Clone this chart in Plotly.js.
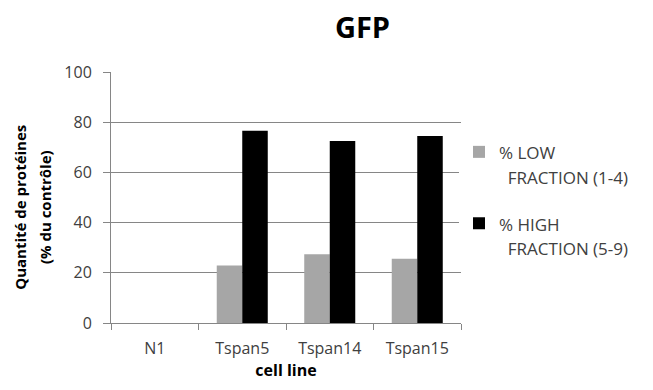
<!DOCTYPE html>
<html>
<head>
<meta charset="utf-8">
<script src="https://cdn.plot.ly/plotly-3.0.1.min.js"></script>
<style>html,body{margin:0;padding:0;background:#fff;}#chart{width:653px;height:390px;}</style>
</head>
<body>
<div id="chart"></div>
<script>
const categories = ["N1", "Tspan5", "Tspan14", "Tspan15"];
const lowValues = [0, 22.9, 27.4, 25.6];
const highValues = [0, 76.6, 72.5, 74.5];
const seriesLine1 = ["% LOW", "% HIGH"];
const seriesLine2 = ["FRACTION (1-4)", "FRACTION (5-9)"];
const yTicks = [0, 20, 40, 60, 80, 100];

const font = "Open Sans, Liberation Sans, sans-serif";
const legendName = i => '<span style="font-size:17px">' + seriesLine1[i] + '<br>&nbsp;&nbsp;' + seriesLine2[i] + '</span>';
const pad = "&nbsp;&nbsp;&nbsp;&nbsp;&nbsp;";

const data = [
  {type: "bar", x: categories, y: lowValues, name: legendName(0), legendgroup: "a",
   marker: {color: "#a6a6a6", line: {width: 0}}},
  {type: "bar", x: categories, y: highValues, name: legendName(1), legendgroup: "b",
   marker: {color: "#000000", line: {width: 0}}}
];

const layout = {
  width: 653, height: 390,
  margin: {l: 111, r: 192, t: 72, b: 67},
  paper_bgcolor: "#fff", plot_bgcolor: "#fff",
  font: {family: font, size: 16, color: "#404040"},
  title: {text: "<b>GFP</b>", x: 362.5/653, xanchor: "center", xref: "container",
          y: 1 - 27.5/390, yanchor: "middle", yref: "container",
          font: {family: font, size: 29, color: "#000"}},
  barmode: "group", bargap: 0.417, bargroupgap: 0,
  xaxis: {
    type: "category", showline: true, linecolor: "#868686", linewidth: 1,
    ticks: "outside", tickson: "boundaries", ticklen: 6, tickcolor: "#868686",
    ticklabelstandoff: 11,
    tickfont: {family: font, size: 16, color: "#404040"},
    title: {text: "<b>cell line</b>", font: {family: font, size: 16, color: "#000"}, standoff: 6},
    showgrid: false, zeroline: false
  },
  yaxis: {
    range: [0, 100], tickvals: yTicks, showline: true, linecolor: "#868686", linewidth: 1,
    ticks: "outside", ticklen: 7, tickcolor: "#868686", ticklabelstandoff: 8,
    gridcolor: "#868686", gridwidth: 1, zeroline: false,
    tickfont: {family: font, size: 16, color: "#404040"},
    title: {text: '<b><span style="font-size:15px">Quantité de protéines' + pad + '<br>(% du contrôle)' + pad + '</span></b>',
            font: {family: font, size: 19, color: "#000"}, standoff: 7}
  },
  legend: {x: (459 - 111) / 350, xanchor: "left", y: 0.49, yanchor: "middle", valign: "top",
           font: {family: font, size: 19, color: "#404040"}, tracegroupgap: 19,
           itemwidth: 30, traceorder: "grouped"},
  showlegend: true
};

Plotly.newPlot("chart", data, layout, {displayModeBar: false, staticPlot: true});
</script>
</body>
</html>
